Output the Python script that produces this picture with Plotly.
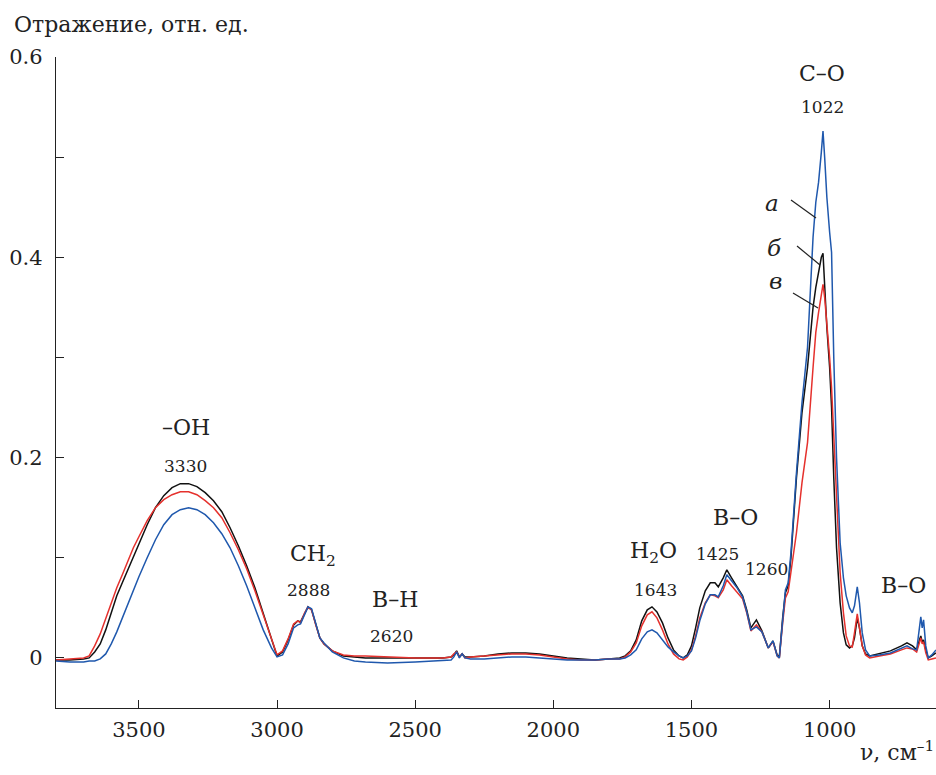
import plotly.graph_objects as go

# wavenumbers, cm^-1
wavenumber = [3800, 3750, 3700, 3680, 3660, 3640, 3620, 3600, 3580, 3560, 3540, 3520, 3500,
              3470, 3440, 3410, 3380, 3350, 3320, 3290, 3260, 3230, 3200, 3170, 3140, 3110,
              3080, 3050, 3020, 3000, 2980, 2960, 2940, 2925, 2915, 2900, 2888, 2875, 2860,
              2845, 2830, 2800, 2760, 2720, 2680, 2600, 2500, 2400, 2370, 2360, 2350, 2340,
              2330, 2320, 2300, 2250, 2200, 2150, 2100, 2050, 2000, 1950, 1900, 1850, 1800,
              1760, 1740, 1720, 1700, 1680, 1660, 1643, 1625, 1605, 1585, 1565, 1545, 1530,
              1515, 1500, 1485, 1470, 1450, 1432, 1415, 1403, 1385, 1372, 1355, 1335, 1315,
              1300, 1285, 1265, 1245, 1222, 1205, 1190, 1182, 1170, 1160, 1150, 1140, 1120,
              1100, 1080, 1060, 1050, 1040, 1030, 1024, 1018, 1010, 1000, 993, 985, 975, 962,
              950, 940, 928, 918, 910, 900, 892, 882, 870, 855, 820, 780, 740, 720, 700, 685,
              675, 670, 665, 660, 652, 643, 630, 615]

# curve б (black)
refl_b = [-0.002, -0.002, -0.001, 0.000, 0.006, 0.014, 0.028, 0.045, 0.062, 0.075, 0.088, 0.102, 0.115,
          0.133, 0.150, 0.162, 0.170, 0.174, 0.174, 0.171, 0.165, 0.157, 0.146, 0.130, 0.112, 0.092,
          0.070, 0.045, 0.020, 0.002, 0.006, 0.018, 0.033, 0.037, 0.036, 0.045, 0.051, 0.048, 0.033,
          0.020, 0.014, 0.007, 0.002, 0.001, 0.000, 0.000, 0.000, 0.000, 0.001, 0.003, 0.007, 0.001,
          0.004, 0.001, 0.001, 0.002, 0.004, 0.005, 0.005, 0.004, 0.002, 0.000, -0.001, -0.002, -0.001,
          0.000, 0.002, 0.007, 0.018, 0.037, 0.048, 0.051, 0.046, 0.035, 0.020, 0.008, 0.002, 0.000,
          0.003, 0.012, 0.030, 0.050, 0.067, 0.075, 0.075, 0.071, 0.080, 0.088, 0.080, 0.071, 0.062,
          0.048, 0.030, 0.038, 0.027, 0.010, 0.017, 0.003, 0.001, 0.040, 0.065, 0.072, 0.100, 0.180,
          0.245, 0.290, 0.350, 0.370, 0.385, 0.400, 0.404, 0.370, 0.330, 0.290, 0.250, 0.180, 0.110, 0.055,
          0.025, 0.013, 0.010, 0.012, 0.020, 0.040, 0.030, 0.012, 0.004, 0.002, 0.004, 0.007, 0.012, 0.015, 0.012, 0.008,
          0.018, 0.022, 0.016, 0.018, 0.008, 0.000, 0.002, 0.005]

# curve в (red)
refl_v = [-0.002, -0.001, 0.000, 0.002, 0.012, 0.024, 0.040, 0.055, 0.070, 0.083, 0.096, 0.110, 0.121,
          0.137, 0.150, 0.158, 0.163, 0.166, 0.166, 0.163, 0.157, 0.150, 0.140, 0.125, 0.108, 0.089,
          0.067, 0.043, 0.019, 0.003, 0.007, 0.019, 0.034, 0.037, 0.035, 0.045, 0.051, 0.048, 0.033,
          0.020, 0.014, 0.007, 0.003, 0.002, 0.002, 0.001, 0.000, 0.000, 0.001, 0.004, 0.006, 0.001,
          0.004, 0.000, 0.001, 0.002, 0.003, 0.004, 0.004, 0.003, 0.001, -0.001, -0.002, -0.002, -0.001,
          -0.001, 0.001, 0.006, 0.015, 0.032, 0.043, 0.046, 0.040, 0.028, 0.014, 0.004, -0.001, -0.002,
          0.001, 0.008, 0.022, 0.040, 0.055, 0.063, 0.062, 0.060, 0.068, 0.078, 0.072, 0.066, 0.059,
          0.045, 0.027, 0.033, 0.026, 0.010, 0.016, 0.002, 0.000, 0.035, 0.060, 0.066, 0.085, 0.125,
          0.175, 0.215, 0.290, 0.325, 0.345, 0.365, 0.373, 0.360, 0.335, 0.300, 0.270, 0.220, 0.150, 0.085,
          0.045, 0.022, 0.012, 0.011, 0.025, 0.044, 0.030, 0.012, 0.003, 0.000, 0.002, 0.004, 0.008, 0.010, 0.009, 0.006,
          0.015, 0.020, 0.014, 0.016, 0.005, -0.002, -0.001, 0.000]

# curve а (blue)
refl_a = [-0.003, -0.004, -0.004, -0.003, -0.003, -0.001, 0.004, 0.014, 0.026, 0.040, 0.054, 0.068, 0.081,
          0.100, 0.118, 0.133, 0.143, 0.148, 0.150, 0.148, 0.143, 0.135, 0.124, 0.110, 0.092, 0.072,
          0.050, 0.028, 0.010, 0.001, 0.003, 0.014, 0.030, 0.033, 0.034, 0.044, 0.051, 0.049, 0.035,
          0.020, 0.015, 0.006, 0.000, -0.003, -0.004, -0.005, -0.004, -0.003, -0.002, 0.001, 0.006, 0.000,
          0.004, 0.000, -0.001, -0.001, 0.000, 0.001, 0.001, 0.000, -0.001, -0.002, -0.002, -0.002, -0.001,
          -0.001, 0.000, 0.003, 0.008, 0.019, 0.026, 0.028, 0.025, 0.018, 0.011, 0.006, 0.002, 0.000,
          0.002, 0.007, 0.020, 0.037, 0.054, 0.063, 0.063, 0.061, 0.072, 0.083, 0.077, 0.070, 0.061,
          0.046, 0.028, 0.031, 0.026, 0.010, 0.017, 0.002, 0.000, 0.042, 0.068, 0.075, 0.105, 0.185,
          0.255, 0.310, 0.420, 0.455, 0.475, 0.505, 0.526, 0.500, 0.460, 0.425, 0.405, 0.300, 0.200, 0.115,
          0.080, 0.062, 0.050, 0.045, 0.052, 0.071, 0.055, 0.025, 0.008, 0.002, 0.003, 0.005, 0.010, 0.012, 0.009, 0.008,
          0.030, 0.041, 0.030, 0.038, 0.012, 0.000, 0.003, 0.008]

series = [("а", refl_a, "#1f58ad"), ("б", refl_b, "#111111"), ("в", refl_v, "#e5312d")]

x_range = [3800, 615]
y_range = [-0.05, 0.6]
y_tickvals = [0, 0.2, 0.4, 0.6]
y_ticktext = ["0", "0.2", "0.4", "0.6"]
x_tickvals = [3500, 3000, 2500, 2000, 1500, 1000]

FONT = "DejaVu Serif"

fig = go.Figure()
for name, vals, col in [series[1], series[2], series[0]]:
    fig.add_trace(go.Scatter(x=wavenumber, y=vals, mode="lines", name=name,
                             line=dict(color=col, width=1.5), showlegend=False))

L, R, T, B = 56, 0, 57, 67
W, H = 936, 775
PW, PH = W - L - R, H - T - B


def px(xp):
    return (xp - L) / PW


def py(yp):
    return (H - B - yp) / PH


ann = []
big = [("–OH", 3330, 0.230), ("CH<sub>2</sub>", 2871, 0.102), ("B–H", 2574, 0.058),
       ("H<sub>2</sub>O", 1639, 0.105), ("B–O", 1342, 0.140), ("B–O", 733, 0.072),
       ("C–O", 1026, 0.584)]
small = [("3330", 3330, 0.192), ("2888", 2885, 0.068), ("2620", 2585, 0.022),
         ("1643", 1632, 0.068), ("1425", 1407, 0.104), ("1260", 1230, 0.089),
         ("1022", 1026, 0.550)]
for t, xv, yv in big:
    ann.append(dict(x=xv, y=yv, xref="x", yref="y", text=t, showarrow=False,
                    font=dict(size=22)))
for t, xv, yv in small:
    ann.append(dict(x=xv, y=yv, xref="x", yref="y", text=t, showarrow=False,
                    font=dict(size=17)))

letters = [("а", 781, 188, (791, 200), (816, 218)),
           ("б", 784, 233, (797, 246), (820, 265)),
           ("в", 784, 281, (793, 293), (818, 308))]
shapes = []
for t, lx, ly, p0, p1 in letters:
    ann.append(dict(x=px(lx), y=py(ly), xref="paper", yref="paper", text="<i>" + t + "</i>",
                    showarrow=False, font=dict(size=23)))
    shapes.append(dict(type="line", xref="paper", yref="paper",
                       x0=px(p0[0]), y0=py(p0[1]), x1=px(p1[0]), y1=py(p1[1]),
                       line=dict(color="#222", width=1.2)))

ann.append(dict(x=px(12), y=py(25), xref="paper", yref="paper", text="Отражение, отн. ед.",
                showarrow=False, xanchor="left", yanchor="middle", font=dict(size=22)))
ann.append(dict(x=px(936), y=py(751), xref="paper", yref="paper", text="ν, см<sup>–1</sup>",
                showarrow=False, xanchor="right", yanchor="middle", font=dict(size=22)))

fig.update_layout(
    width=W, height=H,
    font=dict(family=FONT, color="#222"),
    margin=dict(l=L, r=R, t=T, b=B),
    paper_bgcolor="white", plot_bgcolor="white",
    annotations=ann, shapes=shapes,
    xaxis=dict(range=x_range, tickvals=x_tickvals, ticks="inside", ticklen=8, tickwidth=1.3,
               tickcolor="#222", showline=True, linecolor="#222", linewidth=1.3,
               showgrid=False, zeroline=False, ticklabelstandoff=3,
               tickfont=dict(size=21)),
    yaxis=dict(range=y_range, tickvals=y_tickvals, ticktext=y_ticktext, ticks="inside",
               ticklen=8, tickwidth=1.3, tickcolor="#222", showline=True, linecolor="#222",
               linewidth=1.3, showgrid=False, zeroline=False, ticklabelstandoff=8,
               minor=dict(dtick=0.1, tick0=0, ticks="inside", ticklen=8, tickwidth=1.3,
                          tickcolor="#222", showgrid=False),
               tickfont=dict(size=21)),
)

fig.write_html("out.html")
